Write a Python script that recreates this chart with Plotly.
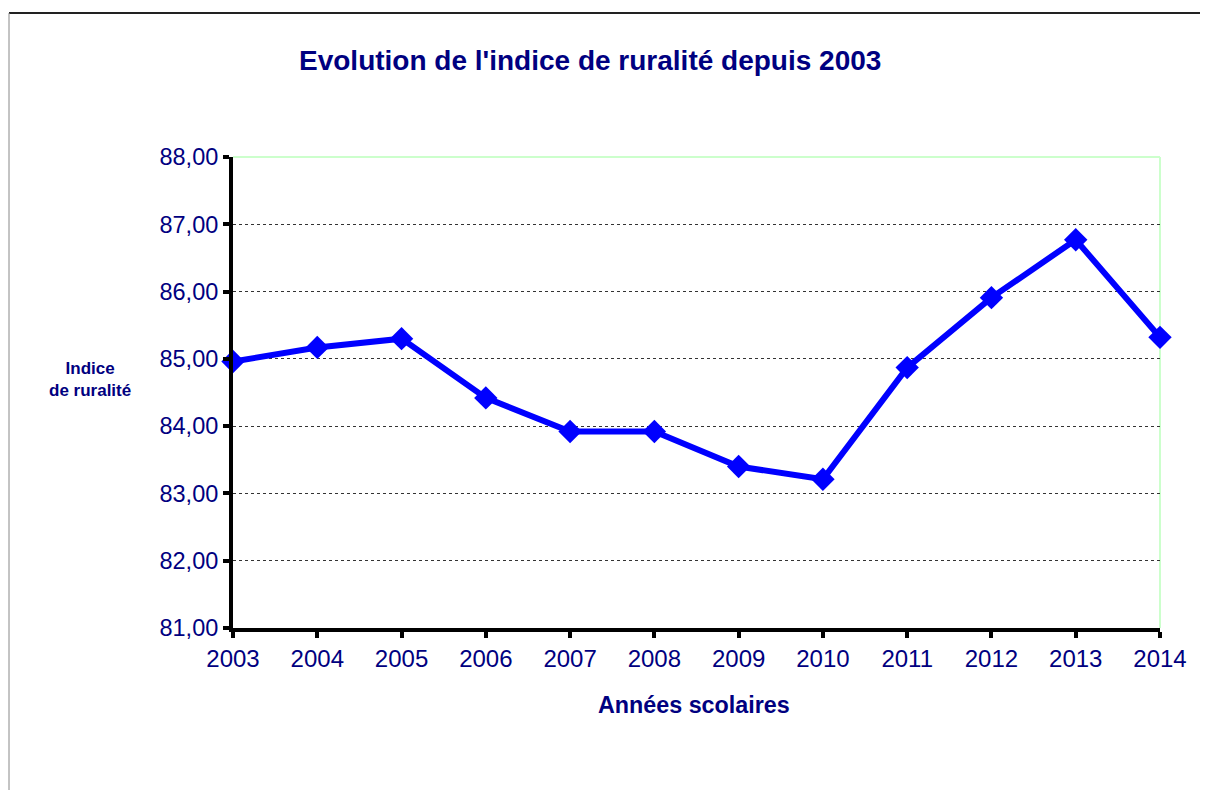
import plotly.graph_objects as go

years = ["2003", "2004", "2005", "2006", "2007", "2008", "2009", "2010", "2011", "2012", "2013", "2014"]
indice = [84.96, 85.17, 85.30, 84.42, 83.92, 83.92, 83.40, 83.21, 84.87, 85.91, 86.77, 85.32]
y_ticks = [81, 82, 83, 84, 85, 86, 87, 88]

NAVY = "#000080"
FONT = "Liberation Sans, Arial, sans-serif"

OFF = 8  # page body margin
FW, FH = 1208 - OFF, 790 - OFF

fig = go.Figure()
fig.add_trace(go.Scatter(
    x=years, y=indice, mode="lines+markers",
    line=dict(color="#0000ff", width=6),
    marker=dict(symbol="diamond", size=18, color="#0000ff"),
    showlegend=False, hoverinfo="x+y", cliponaxis=False,
))

# plot area in page pixels: x 233..1160, y 157..628
L, R, T, B = 233 - OFF, 1160 - OFF, 157 - OFF, 628 - OFF
W, H = R - L, B - T
def px(x):
    return (x - OFF - L) / W
def py(y):
    return (B - (y - OFF)) / H

shapes = [
    dict(type="line", xref="paper", yref="paper", x0=0, x1=1, y0=1, y1=1,
         line=dict(color="#ccffcc", width=2), layer="above"),
    dict(type="line", xref="paper", yref="paper", x0=1, x1=1, y0=0, y1=1,
         line=dict(color="#ccffcc", width=2), layer="below"),
    dict(type="line", xref="paper", yref="paper", x0=px(9), x1=px(1208), y0=py(13), y1=py(13),
         line=dict(color="#222222", width=2)),
    dict(type="line", xref="paper", yref="paper", x0=px(9), x1=px(9), y0=py(13), y1=py(790),
         line=dict(color="#888888", width=1)),
]

annotations = [
    dict(text="<b>Evolution de l'indice de ruralité depuis 2003</b>", xref="paper", yref="paper",
         x=px(590), y=py(60), xanchor="center", yanchor="middle", showarrow=False,
         font=dict(family=FONT, size=28, color=NAVY)),
    dict(text="<b>Indice<br>de ruralité</b>", xref="paper", yref="paper",
         x=px(90), y=py(379), xanchor="center", yanchor="middle", showarrow=False,
         font=dict(family=FONT, size=17, color=NAVY), align="center"),
    dict(text="<b>Années scolaires</b>", xref="paper", yref="paper",
         x=px(694), y=py(705), xanchor="center", yanchor="middle", showarrow=False,
         font=dict(family=FONT, size=23.3, color=NAVY)),
]

fig.update_layout(
    width=FW, height=FH,
    margin=dict(l=L, r=FW - R, t=T, b=FH - B, pad=0),
    paper_bgcolor="white", plot_bgcolor="white",
    separators=", ",
    shapes=shapes, annotations=annotations,
    font=dict(family=FONT, color=NAVY),
)
fig.update_xaxes(
    type="category", range=[0, len(years) - 1],
    showline=True, linecolor="black", linewidth=4,
    ticks="outside", ticklen=6, tickwidth=4, tickcolor="black",
    showgrid=False, zeroline=False,
    tickfont=dict(family=FONT, size=24, color=NAVY),
)
fig.update_yaxes(
    range=[81, 88], tickvals=y_ticks, tickformat=".2f",
    showline=True, linecolor="black", linewidth=4,
    ticks="outside", ticklen=6, tickwidth=4, tickcolor="black",
    showgrid=True, gridcolor="#333333", gridwidth=1, griddash="dot",
    zeroline=False,
    tickfont=dict(family=FONT, size=23.5, color=NAVY),
)

fig.write_html("out.html")
